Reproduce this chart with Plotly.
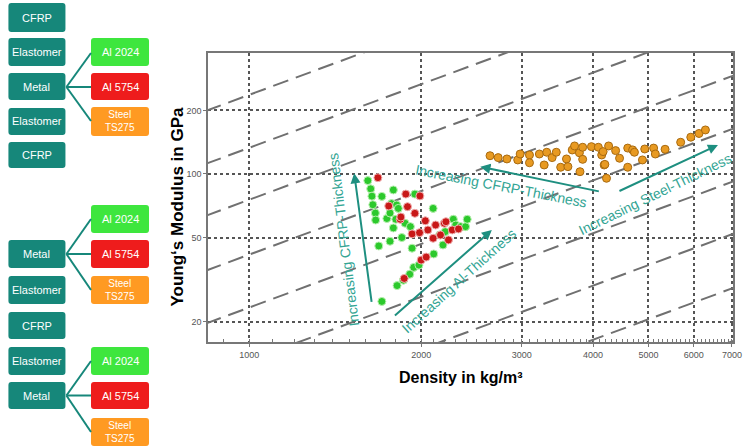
import math
import plotly.graph_objects as go

# ---------------- data ----------------
al2024_density = [1613, 1632, 1640, 1646, 1663, 1665, 1686, 1707, 1707, 1742, 1764, 1764,
                  1775, 1788, 1788, 1806, 1812, 1815, 1824, 1850, 1862, 1875, 1910, 1915,
                  1928, 1941, 1950, 1982, 2099, 2104, 2155, 2184, 2204, 2277, 2299, 2345,
                  2392, 2408]
al2024_modulus = [93.0, 85.0, 78.5, 71.5, 65.3, 60.5, 45.6, 24.9, 78.3, 61.5, 48.0, 65.3,
                  72.4, 84.0, 55.5, 61.0, 71.3, 29.6, 68.7, 50.0, 31.4, 58.4, 33.5, 56.3,
                  44.5, 36.1, 80.3, 37.0, 68.7, 41.8, 51.4, 46.1, 53.3, 61.0, 57.3, 56.3,
                  56.3, 61.0]

al5754_density = [1680, 1755, 1838, 1843, 1868, 1880, 1893, 1928, 1950, 1987, 1990, 2000,
                  2034, 2041, 2055, 2099, 2120, 2162, 2196, 2210, 2233, 2267, 2325]
al5754_modulus = [96.0, 70.5, 61.0, 62.5, 32.0, 80.3, 70.0, 52.0, 65.1, 52.7, 78.7, 39.1,
                  60.0, 40.4, 54.3, 49.6, 57.3, 51.4, 58.4, 59.4, 48.7, 54.3, 54.9]

steel_density = [2640, 2728, 2826, 2952, 2981, 3095, 3095, 3221, 3284, 3318, 3391, 3448,
                 3510, 3593, 3614, 3677, 3712, 3785, 3794, 3835, 3835, 3973, 4085, 4141,
                 4165, 4182, 4194, 4222, 4258, 4380, 4450, 4599, 4599, 4691, 4725, 4880,
                 4925, 5105, 5140, 5346, 5693, 5930, 6130, 6290]
steel_modulus = [122.0, 119.5, 117.8, 116.5, 124.3, 123.0, 113.0, 124.3, 110.3, 126.7, 119.5, 126.7,
                 107.6, 117.8, 108.3, 129.9, 135.7, 126.0, 102.5, 117.3, 133.8, 134.7, 133.8, 123.0,
                 127.6, 110.3, 111.0, 95.4, 135.7, 129.0, 118.7, 132.6, 107.6, 130.0, 126.7, 116.5,
                 131.3, 132.6, 124.3, 130.9, 141.3, 149.3, 155.5, 161.6]

# Ashby guide lines: E / rho = const (GPa per kg/m^3)
guide_constants = [0.237, 0.133, 0.0755, 0.0415, 0.0233, 0.0131, 0.0074, 0.0041, 0.0023]
guide_density_span = [700, 8000]

x_tickvals = [1000, 2000, 3000, 4000, 5000, 6000, 7000]
y_tickvals = [20, 50, 100, 200]

stack_labels = ["CFRP", "Elastomer", "Metal", "Elastomer", "CFRP"]
metal_labels = ["Al 2024", "Al 5754", "Steel<br>TS275"]

arrow_labels = ["Increasing CFRP-Thickness", "Increasing Al-Thickness",
                "Increasing CFRP-Thickness", "Increasing Steel-Thickness"]

# ---------------- layout helpers ----------------
W, H = 749, 448
PL, PR, PT, PB = 208, 742, 53, 342


def paper(px, py):
    return (px - PL) / (PR - PL), (PB - py) / (PB - PT)


FONT = "Liberation Sans, Arial"
TEAL_BOX = "#16877a"
GREEN_BOX = "#3ee63e"
RED_BOX = "#ee1c1c"
ORANGE_BOX = "#ff9a22"
ARROW = "#1e8f80"
ARROW_TXT = "#33a594"

fig = go.Figure()

# guide lines
for c in guide_constants:
    fig.add_trace(go.Scatter(
        x=guide_density_span, y=[c * d for d in guide_density_span],
        mode="lines", line=dict(color="#707070", width=2, dash="16px,8px"),
        hoverinfo="skip", showlegend=False))

fig.add_trace(go.Scatter(x=al2024_density, y=al2024_modulus, mode="markers", name="Al 2024",
                         marker=dict(size=8, color="#2cc92c",
                                     line=dict(color="#b8f0b0", width=1)), showlegend=False))
fig.add_trace(go.Scatter(x=al5754_density, y=al5754_modulus, mode="markers", name="Al 5754",
                         marker=dict(size=8, color="#c81818",
                                     line=dict(color="#f0b0b0", width=1)), showlegend=False))
fig.add_trace(go.Scatter(x=steel_density, y=steel_modulus, mode="markers", name="Steel TS275",
                         marker=dict(size=8, color="#e89a22",
                                     line=dict(color="#a86a10", width=1)), showlegend=False))

shapes = []
annotations = []


def rbox(x0, y0, x1, y1, color, r=3):
    path = (f"M {x0 + r},{y0} L {x1 - r},{y0} Q {x1},{y0} {x1},{y0 + r} "
            f"L {x1},{y1 - r} Q {x1},{y1} {x1 - r},{y1} L {x0 + r},{y1} "
            f"Q {x0},{y1} {x0},{y1 - r} L {x0},{y0 + r} Q {x0},{y0} {x0 + r},{y0} Z")
    out = []
    for tok in path.split(" "):
        if "," in tok:
            a, b = tok.split(",")
            pa, pb = paper(float(a), float(b))
            out.append(f"{pa:.5f},{pb:.5f}")
        else:
            out.append(tok)
    shapes.append(dict(type="path", xref="paper", yref="paper", path=" ".join(out),
                       fillcolor=color, line=dict(width=0), layer="above"))


def label(cx_px, cy_px, text, size, color, angle=0, bold=False):
    cx, cy = paper(cx_px, cy_px)
    annotations.append(dict(x=cx, y=cy, xref="paper", yref="paper",
                            text=f"<b>{text}</b>" if bold else text, showarrow=False,
                            textangle=angle, font=dict(color=color, size=size, family=FONT),
                            xanchor="center", yanchor="middle"))


def box_label(x0, y0, x1, y1, text, size=11):
    label((x0 + x1) / 2, (y0 + y1) / 2, text, size, "white")


def line_px(x0, y0, x1, y1, color=TEAL_BOX, w=2):
    a0, b0 = paper(x0, y0)
    a1, b1 = paper(x1, y1)
    shapes.append(dict(type="line", xref="paper", yref="paper", x0=a0, y0=b0, x1=a1, y1=b1,
                       line=dict(color=color, width=w)))


LX0, LX1 = 5, 63
RX0, RX1 = 89, 148
metal_colors = [GREEN_BOX, RED_BOX, ORANGE_BOX]

# group 1: full stack
g1 = [(3, 32), (38, 66), (73, 100), (108, 135), (142, 168)]
for (y0, y1), lab in zip(g1, stack_labels):
    rbox(LX0, y0, LX1, y1, TEAL_BOX)
    box_label(LX0, y0, LX1, y1, lab)
g1m = [(38, 66), (73, 100), (107, 136)]
for (y0, y1), lab, col in zip(g1m, metal_labels, metal_colors):
    rbox(RX0, y0, RX1, y1, col)
    box_label(RX0, y0, RX1, y1, lab, 11 if "<br>" not in lab else 10)
for ty in [53, 87, 121]:
    line_px(64, 87, RX0, ty)

# group 2 and 3
g2 = [(240, 268, "Metal"), (276, 304, "Elastomer"), (312, 339, "CFRP"),
      (347, 375, "Elastomer"), (382, 409, "Metal")]
for y0, y1, lab in g2:
    rbox(LX0, y0, LX1, y1, TEAL_BOX)
    box_label(LX0, y0, LX1, y1, lab)
g2m = [(205, 233), (240, 268), (276, 304)]
g3m = [(347, 375), (382, 409), (418, 446)]
for grp, cy in [(g2m, 254), (g3m, 395.5)]:
    for (y0, y1), lab, col in zip(grp, metal_labels, metal_colors):
        rbox(RX0, y0, RX1, y1, col)
        box_label(RX0, y0, RX1, y1, lab, 11 if "<br>" not in lab else 10)
        line_px(64, cy, RX0, (y0 + y1) / 2)

# arrows (head pixel, tail offset pixel)
arrows = [((356.7, 173.3), (17.6, 130)),
          ((496.7, 230.0), (-98.4, 86.7)),
          ((485.0, 166.7), (120, 25)),
          ((726.7, 145.0), (-100, 46.7))]
for (hx, hy), (ax, ay) in arrows:
    px_, py_ = paper(hx, hy)
    annotations.append(dict(x=px_, y=py_, xref="paper", yref="paper", ax=ax, ay=ay,
                            showarrow=True, arrowhead=2, arrowsize=1, arrowwidth=2,
                            arrowcolor=ARROW, text=""))

texts = [((346, 240), -97), ((463, 281), -42), ((506, 186), 11), ((663, 194), -26)]
for ((cx, cy), ang), t in zip(texts, arrow_labels):
    label(cx, cy, t, 14, ARROW_TXT, angle=ang)

# axis titles
label(177, 207, "Young‘s Modulus in GPa", 17, "black", angle=-90, bold=True)
label(465, 377, "Density in kg/m³", 16, "black", bold=True)

fig.update_layout(
    width=W, height=H,
    margin=dict(l=PL, r=W - PR, t=PT, b=H - PB, pad=0),
    paper_bgcolor="white", plot_bgcolor="white",
    shapes=shapes, annotations=annotations,
    xaxis=dict(type="log", range=[math.log10(847), math.log10(7030)],
               tickvals=x_tickvals, ticktext=[str(v) for v in x_tickvals],
               tickfont=dict(size=9, color="#555", family=FONT),
               ticklabeloverflow="allow",
               showgrid=True, gridcolor="#555", griddash="dot", gridwidth=1.5,
               showline=True, linecolor="#777", linewidth=1.5, mirror=True,
               ticks="outside", ticklen=3, tickcolor="#777",
               minor=dict(ticks="inside", ticklen=3, tickcolor="#777", showgrid=False),
               zeroline=False),
    yaxis=dict(type="log", range=[math.log10(16.0), math.log10(374)],
               tickvals=y_tickvals, ticktext=[str(v) for v in y_tickvals],
               tickfont=dict(size=9, color="#555", family=FONT),
               showgrid=True, gridcolor="#555", griddash="dot", gridwidth=1.5,
               showline=True, linecolor="#777", linewidth=1.5, mirror=True,
               ticks="outside", ticklen=3, tickcolor="#777",
               zeroline=False),
)

fig.write_html("out.html", config={"displayModeBar": False},
               post_script="document.body.style.margin='0';")
